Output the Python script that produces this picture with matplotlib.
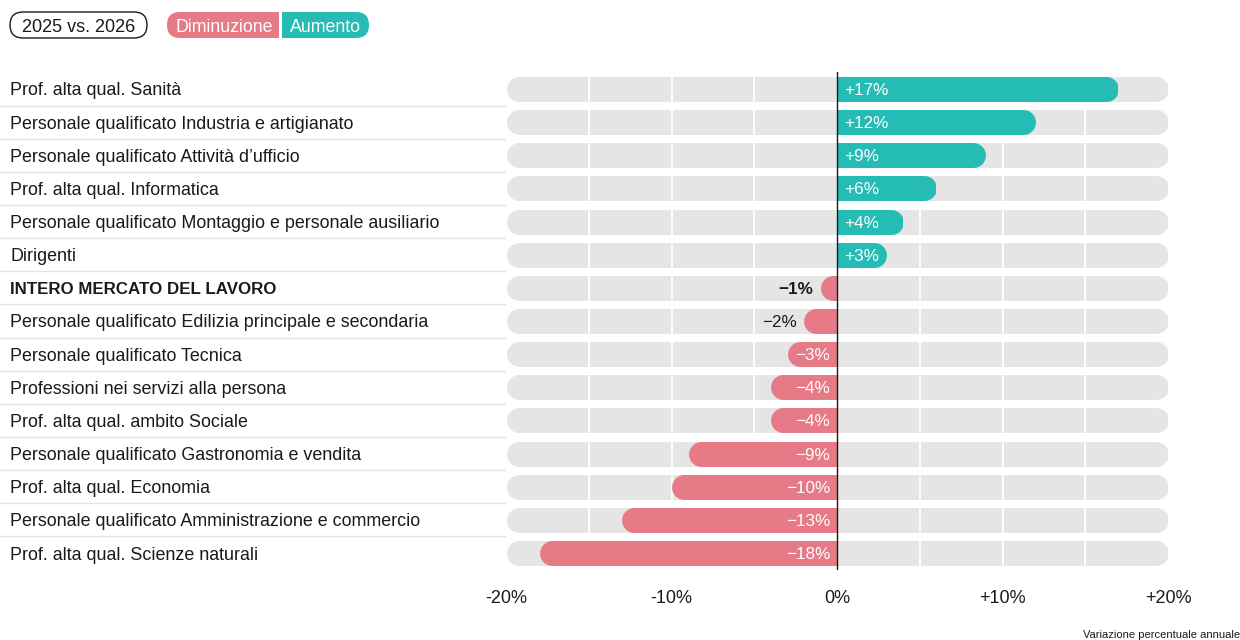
"""Variazione percentuale annuale delle professioni, 2025 vs. 2026."""

import matplotlib
matplotlib.use("Agg")
import matplotlib.pyplot as plt
from matplotlib.patches import FancyBboxPatch, Rectangle
from matplotlib.transforms import blended_transform_factory

categories = [
    "Prof. alta qual. Sanità",
    "Personale qualificato Industria e artigianato",
    "Personale qualificato Attività d’ufficio",
    "Prof. alta qual. Informatica",
    "Personale qualificato Montaggio e personale ausiliario",
    "Dirigenti",
    "INTERO MERCATO DEL LAVORO",
    "Personale qualificato Edilizia principale e secondaria",
    "Personale qualificato Tecnica",
    "Professioni nei servizi alla persona",
    "Prof. alta qual. ambito Sociale",
    "Personale qualificato Gastronomia e vendita",
    "Prof. alta qual. Economia",
    "Personale qualificato Amministrazione e commercio",
    "Prof. alta qual. Scienze naturali",
]
changes = [17, 12, 9, 6, 4, 3, -1, -2, -3, -4, -4, -9, -10, -13, -18]
highlight = "INTERO MERCATO DEL LAVORO"
xticks = [-20, -10, 0, 10, 20]
xtick_labels = ["-20%", "-10%", "0%", "+10%", "+20%"]

TEAL = "#25BCB5"
PINK = "#E67A86"
BG = "#E5E5E5"
TXT = "#1A1A1A"

plt.rcParams["font.family"] = ["Liberation Sans", "DejaVu Sans"]

W, H, DPI = 1240, 640, 100
fig = plt.figure(figsize=(W / DPI, H / DPI), dpi=DPI)

# header / decoration layer in pixel coordinates
deco = fig.add_axes([0, 0, 1, 1], zorder=0)
deco.set_xlim(0, W)
deco.set_ylim(H, 0)
deco.axis("off")
deco.patch.set_alpha(0)

# main chart axes: -20..+20 spans x 506..1168 px, rows span y 72..570 px
ax_l, ax_r, ax_t, ax_b = 506, 1168, 72.4, 569.6
ax = fig.add_axes([ax_l / W, 1 - ax_b / H, (ax_r - ax_l) / W, (ax_b - ax_t) / H], zorder=1)
ax.set_xlim(-20, 20)
n = len(categories)
ax.set_ylim(n - 0.5, -0.5)
ax.patch.set_alpha(0)
for s in ax.spines.values():
    s.set_visible(False)
ax.set_yticks([])

bar_px = 25
lw = bar_px * 72 / DPI
r = (bar_px / 2) / ((ax_r - ax_l) / 40)  # cap radius in data units

for i, (cat, v) in enumerate(zip(categories, changes)):
    ax.plot([-20 + r, 20 - r], [i, i], color=BG, lw=lw, solid_capstyle="round", zorder=1)
    sign = 1 if v > 0 else -1
    line, = ax.plot([0, v - sign * r], [i, i], color=TEAL if v > 0 else PINK,
                    lw=lw, solid_capstyle="round", zorder=3)
    clip = Rectangle((min(0, v), i - 0.5), abs(v), 1, transform=ax.transData)
    line.set_clip_path(clip)

    bold = cat == highlight
    if v > 0:
        ax.annotate(f"+{v}%", (0, i), xytext=(5, 0), textcoords="offset points",
                    ha="left", va="center_baseline", color="white", fontsize=12.3, zorder=4)
    elif abs(v) >= 3:
        ax.annotate(f"−{abs(v)}%", (0, i), xytext=(-5, 0), textcoords="offset points",
                    ha="right", va="center_baseline", color="white", fontsize=12.3, zorder=4)
    else:
        ax.annotate(f"−{abs(v)}%", (v, i), xytext=(-5, 0), textcoords="offset points",
                    ha="right", va="center_baseline", color=TXT, fontsize=12.3, zorder=4,
                    fontweight="bold" if bold else "normal")

# white grid inside the grey tracks
for gx in [-15, -10, -5, 5, 10, 15]:
    ax.axvline(gx, color="white", lw=1.3, zorder=2)
ax.axvline(0, color=TXT, lw=1, zorder=5)

# category labels and row separators
lab_tr = blended_transform_factory(fig.transFigure, ax.transData)
for i, cat in enumerate(categories):
    bold = cat == highlight
    ax.text(10 / W, i, cat, transform=lab_tr, ha="left", va="center_baseline",
            fontsize=12.2 if bold else 12.9, color=TXT, clip_on=False,
            fontweight="bold" if bold else "normal")
    if i < n - 1:
        ax.plot([0, 505 / W], [i + 0.5, i + 0.5], transform=lab_tr, color="#E2E2E2",
                lw=1, clip_on=False)

ax.set_xticks(xticks)
ax.set_xticklabels(xtick_labels)
ax.tick_params(axis="x", length=0, pad=15, labelsize=13, labelcolor=TXT)

# header pills
deco.add_patch(FancyBboxPatch((10, 12), 137, 26, boxstyle="round,pad=0,rounding_size=13",
                              fc="white", ec=TXT, lw=1))
deco.text(78.5, 26, "2025 vs. 2026", ha="center", va="center_baseline", fontsize=13, color=TXT)
deco.add_patch(FancyBboxPatch((167, 12), 112, 26, boxstyle="round,pad=0,rounding_size=13",
                              fc=PINK, ec="none"))
deco.add_patch(Rectangle((250, 12), 29, 26, fc=PINK, ec="none"))
deco.add_patch(FancyBboxPatch((282, 12), 87, 26, boxstyle="round,pad=0,rounding_size=13",
                              fc=TEAL, ec="none"))
deco.add_patch(Rectangle((282, 12), 30, 26, fc=TEAL, ec="none"))
deco.text(224, 26, "Diminuzione", ha="center", va="center_baseline", fontsize=12.8, color="white")
deco.text(325.5, 26, "Aumento", ha="center", va="center_baseline", fontsize=12.8, color="white")

deco.text(1240, 635, "Variazione percentuale annuale", ha="right", va="center",
          fontsize=8, color=TXT)

fig.savefig("out.png", dpi=DPI, facecolor="white")
